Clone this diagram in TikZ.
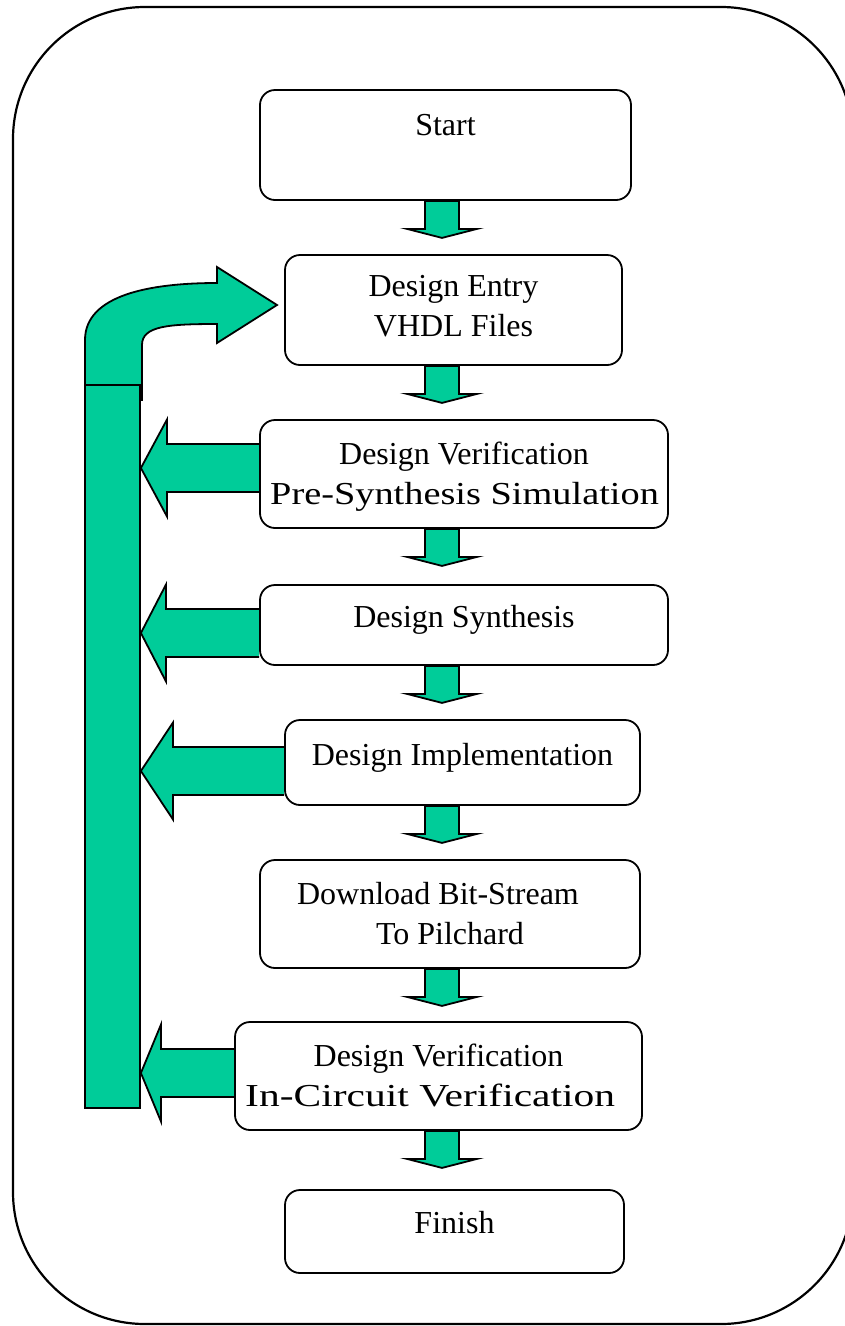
\documentclass[tikz,border=0pt]{standalone}
\usepackage{fontspec}
\usepackage{graphicx}
\setmainfont{Liberation Serif}
\usetikzlibrary{calc}
\definecolor{flowgreen}{HTML}{00CC99}
\pgfdeclarelayer{back}
\pgfsetlayers{back,main}
\tikzset{
  stage/.style={rectangle, draw=black, fill=white, line width=1.8pt,
    rounded corners=15pt, inner sep=0pt},
  caption/.style={anchor=base, inner sep=0pt,
    font=\fontsize{32}{40}\selectfont},
  wide/.style={anchor=base west, inner sep=0pt,
    font=\fontsize{32}{40}\selectfont},
  blockarrow/.style={draw=black, fill=flowgreen, line width=1.8pt,
    line join=miter},
  frame/.style={draw=black, line width=2.2pt},
}
% green block arrow pointing down from the bottom of a stage box
\newcommand\flowdown[1]{%
  \draw[blockarrow] ($(axis |- #1.south)+(-17,0)$) -- ++(0,28) -- ++(-18,0)
    -- ++(35,9) -- ++(35,-9) -- ++(-18,0) -- ++(0,-28) -- cycle;}
% green block arrow from a stage box back to the feedback bar
% #1 box, #2 centre line (y), #3 x of the arrow head base
\newcommand\flowleft[3]{%
  \draw[blockarrow] (#1.west |- 0,#2-24) -- (#3,#2-24) -- (#3,#2-48.5)
    -- (bar.east |- 0,#2) -- (#3,#2+48.5) -- (#3,#2+24)
    -- (#1.west |- 0,#2+24);}
\begin{document}
\begin{tikzpicture}[x=1pt,y=-1pt]
\useasboundingbox (0,0) rectangle (845,1326);
\coordinate (axis) at (442,0);

% stage boxes
\node[stage, minimum width=371pt, minimum height=110pt] (start) at (445.5,145) {};
\node[stage, minimum width=337pt, minimum height=110pt] (entry) at (453.5,310) {};
\node[stage, minimum width=408pt, minimum height=108pt] (dv)    at (464,474) {};
\node[stage, minimum width=408pt, minimum height=80pt]  (syn)   at (464,625) {};
\node[stage, minimum width=355pt, minimum height=85pt]  (impl)  at (462.5,762.5) {};
\node[stage, minimum width=380pt, minimum height=108pt] (dl)    at (450,914) {};
\node[stage, minimum width=407pt, minimum height=108pt] (ic)    at (438.5,1076) {};
\node[stage, minimum width=339pt, minimum height=83pt]  (fin)   at (454.5,1231.5) {};

% stage captions
\node[caption] (startA) at (start.center |- 0,135) {Start};
\node[caption] (entryA) at (entry.center |- 0,296) {Design Entry};
\node[caption] (entryB) at (entry.center |- 0,336) {VHDL Files};
\node[caption] (dvA)    at (dv.center |- 0,464) {Design Verification};
\node[wide]    (dvB)    at (270,504) {\scalebox{1.198}[1]{Pre-Synthesis Simulation}};
\node[caption] (synA)   at (syn.center |- 0,627) {Design Synthesis};
\node[caption] (implA)  at (impl.center |- 0,765) {Design Implementation};
\node[caption] (dlA)    at (438,904) {Download Bit-Stream};
\node[caption] (dlB)    at (dl.center |- 0,944) {To Pilchard};
\node[caption] (icA)    at (ic.center |- 0,1066) {Design Verification};
\node[wide]    (icB)    at (245,1106) {\scalebox{1.297}[1]{In-Circuit Verification}};
\node[caption] (finA)   at (fin.center |- 0,1233) {Finish};

\begin{pgfonlayer}{back}
  % outer frame
  \draw[frame, rounded corners=132pt] (13,7) rectangle (853,1324);
  % bent arrow back into the design entry
  \draw[blockarrow] (85,400) -- (85,340) .. controls (85,295) and (150,283) .. (217,283)
    -- (217,267) -- (277,305) -- (217,343) -- (217,324)
    .. controls (168,324) and (142,326) .. (142,345) -- (142,400) -- cycle;
  % feedback bar
  \node[blockarrow, rectangle, inner sep=0pt, minimum width=55pt,
    minimum height=723pt] (bar) at (112.5,746.5) {};
  % arrows back to the bar
  \flowleft{dv}{468}{167}
  \flowleft{syn}{633}{166}
  \flowleft{impl}{771}{173}
  \flowleft{ic}{1073}{161}
  % arrows down the flow
  \flowdown{start}
  \flowdown{entry}
  \flowdown{dv}
  \flowdown{syn}
  \flowdown{impl}
  \flowdown{dl}
  \flowdown{ic}
\end{pgfonlayer}
\end{tikzpicture}
\end{document}
